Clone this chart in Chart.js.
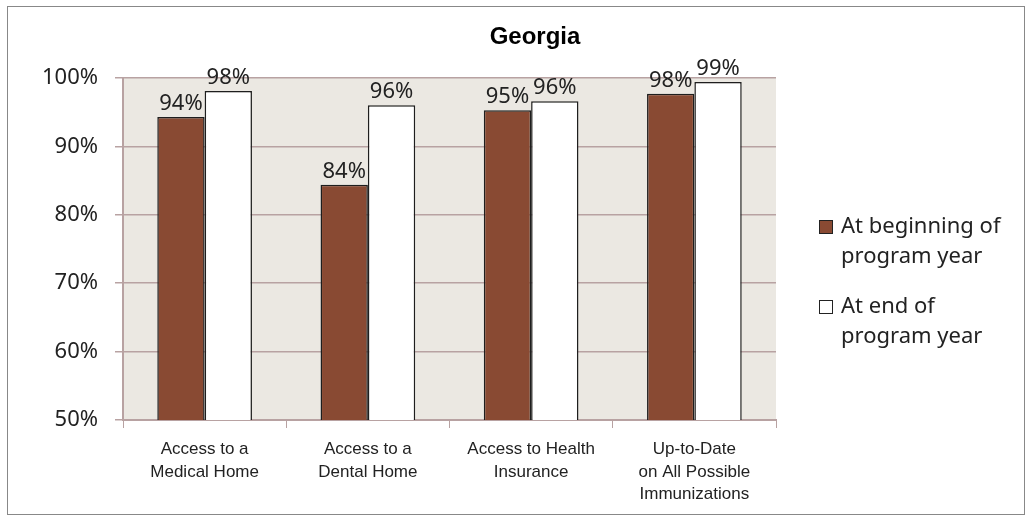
<!DOCTYPE html>
<html>
<head>
<meta charset="utf-8">
<script src="https://cdn.jsdelivr.net/npm/chart.js@4.4.0/dist/chart.umd.min.js"></script>
<style>
  html, body { margin: 0; padding: 0; background: #fff; }
  #wrap { position: relative; width: 1032px; height: 522px; }
</style>
</head>
<body>
<div id="wrap"><canvas id="georgiaChart" width="1032" height="522"></canvas></div>
<script>
const chartTitle = 'Georgia'
const categories = [
  ['Access to a', 'Medical Home'],
  ['Access to a', 'Dental Home'],
  ['Access to Health', 'Insurance'],
  ['Up-to-Date', 'on All Possible', 'Immunizations']
]
const seriesNames = [
  ['At beginning of', 'program year'],
  ['At end of', 'program year']
]
const beginningValues = [94.3, 84.4, 95.3, 97.7]
const endValues = [98.1, 96.0, 96.6, 99.4]
const beginningLabels = ['94%', '84%', '95%', '98%']
const endLabels = ['98%', '96%', '96%', '99%']
const yTicks = [50, 60, 70, 80, 90, 100]

const gridColor = '#b8a2a2'
const labelFont = '"Noto Sans", sans-serif'

// background of the plot + outer frame + title
const framePlugin = {
  id: 'frame',
  beforeDraw(chart) {
    const { ctx, chartArea } = chart
    ctx.save()
    ctx.fillStyle = '#ebe8e2'
    ctx.fillRect(chartArea.left, chartArea.top, chartArea.right - chartArea.left, chartArea.bottom - chartArea.top)
    ctx.restore()
  },
  afterDraw(chart) {
    const { ctx } = chart
    ctx.save()
    ctx.strokeStyle = '#888'
    ctx.lineWidth = 1
    ctx.strokeRect(7.5, 6.5, 1017, 508)
    ctx.fillStyle = '#000'
    ctx.font = 'bold 24px "Liberation Sans", Arial, sans-serif'
    ctx.textAlign = 'center'
    ctx.textBaseline = 'alphabetic'
    ctx.fillText(chartTitle, 535, 44)
    ctx.restore()
  }
}

// value labels above each bar
const valueLabelPlugin = {
  id: 'valueLabels',
  afterDatasetsDraw(chart) {
    const { ctx } = chart
    const texts = [beginningLabels, endLabels]
    ctx.save()
    ctx.font = '22px ' + labelFont
    ctx.fillStyle = '#222'
    ctx.textAlign = 'center'
    ctx.textBaseline = 'alphabetic'
    chart.data.datasets.forEach((ds, i) => {
      chart.getDatasetMeta(i).data.forEach((bar, j) => {
        ctx.fillText(texts[i][j], bar.x, bar.y - 7)
      })
    })
    ctx.restore()
  }
}

// legend on the right, two lines per entry
const legendPlugin = {
  id: 'sideLegend',
  afterDraw(chart) {
    const { ctx } = chart
    ctx.save()
    ctx.font = '22px ' + labelFont
    ctx.textBaseline = 'middle'
    ctx.textAlign = 'left'
    const startY = [227, 307]
    chart.data.datasets.forEach((ds, i) => {
      const y = startY[i]
      ctx.fillStyle = ds.backgroundColor
      ctx.fillRect(819, y - 7, 14, 14)
      ctx.strokeStyle = '#222'
      ctx.lineWidth = 1
      ctx.strokeRect(819.5, y - 6.5, 13, 13)
      ctx.fillStyle = '#222'
      seriesNames[i].forEach((line, k) => {
        ctx.fillText(line, 841, y + k * 30)
      })
    })
    ctx.restore()
  }
}

const ctx = document.getElementById('georgiaChart')
new Chart(ctx, {
  type: 'bar',
  data: {
    labels: categories,
    datasets: [{
      label: seriesNames[0].join(' '),
      data: beginningValues,
      backgroundColor: '#894a33',
      borderColor: '#1e1e1e',
      borderWidth: 1.5,
      categoryPercentage: 0.58,
      barPercentage: 1
    }, {
      label: seriesNames[1].join(' '),
      data: endValues,
      backgroundColor: '#ffffff',
      borderColor: '#1e1e1e',
      borderWidth: 1.5,
      categoryPercentage: 0.58,
      barPercentage: 1
    }]
  },
  options: {
    responsive: false,
    animation: false,
    devicePixelRatio: 1,
    layout: { padding: { left: 0, top: 78, right: 256, bottom: 0 } },
    plugins: {
      legend: { display: false },
      tooltip: { enabled: false },
      title: { display: false }
    },
    scales: {
      x: {
        grid: {
          display: true,
          drawOnChartArea: false,
          drawTicks: true,
          tickLength: 8,
          color: gridColor,
          offset: true
        },
        border: { color: gridColor, width: 2 },
        ticks: {
          color: '#222',
          padding: 10,
          maxRotation: 0,
          autoSkip: false,
          font: { family: '"Liberation Sans Narrow", "Arial Narrow", "Liberation Sans", sans-serif', size: 17, lineHeight: 1.33 }
        },
        afterFit(scale) { scale.height = 102 }
      },
      y: {
        min: 50,
        max: 100,
        afterBuildTicks(scale) { scale.ticks = yTicks.map(v => ({ value: v })) },
        grid: {
          color: gridColor,
          lineWidth: 1.5,
          tickLength: 8
        },
        border: { color: gridColor, width: 2 },
        ticks: {
          color: '#222',
          padding: 17,
          font: { family: labelFont, size: 22 },
          callback: v => v + '%'
        },
        afterFit(scale) { scale.width = 123 }
      }
    }
  },
  plugins: [framePlugin, valueLabelPlugin, legendPlugin]
})
</script>
</body>
</html>
